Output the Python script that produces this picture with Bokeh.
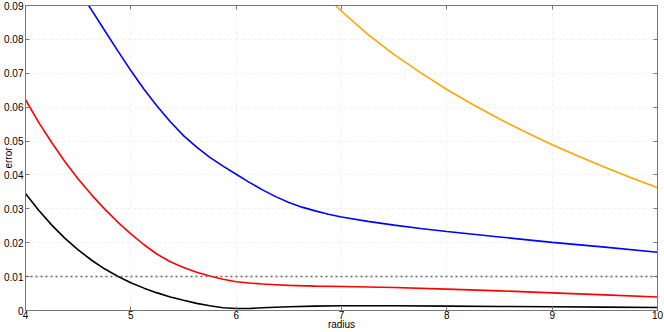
from bokeh.plotting import figure
from bokeh.models import Range1d, LinearAxis, FixedTicker, CustomJSTickFormatter, Span
from bokeh.embed import file_html
from bokeh.resources import INLINE

# ---- data ----
x_ticks = [4, 5, 6, 7, 8, 9, 10]
y_ticks = [0.0, 0.01, 0.02, 0.03, 0.04, 0.05, 0.06, 0.07, 0.08, 0.09]
threshold = 0.01

black_x = [4.0, 4.125, 4.25, 4.375, 4.5, 4.625, 4.75, 4.875, 5.0, 5.125, 5.25, 5.375, 5.5, 5.625, 5.75,
           5.875, 6.0, 6.125, 6.25, 6.5, 6.75, 7.0, 7.5, 8.0, 8.5, 9.0, 9.5, 10.0]
black_y = [0.0345, 0.0296, 0.0252, 0.0213, 0.0179, 0.0149, 0.0123, 0.0101, 0.0082, 0.0066, 0.0052, 0.0040,
           0.0030, 0.0021, 0.0014, 0.0008, 0.0006, 0.0006, 0.0008, 0.0011, 0.0013, 0.0014, 0.0014, 0.0013,
           0.0012, 0.0011, 0.0010, 0.0009]

red_x = [4.0, 4.125, 4.25, 4.375, 4.5, 4.625, 4.75, 4.875, 5.0, 5.125, 5.25, 5.375, 5.5, 5.625, 5.75,
         5.875, 6.0, 6.125, 6.25, 6.375, 6.5, 6.75, 7.0, 7.5, 8.0, 8.5, 9.0, 9.5, 10.0]
red_y = [0.0622, 0.0555, 0.0495, 0.0439, 0.0388, 0.0342, 0.0300, 0.0261, 0.0226, 0.0194, 0.0166, 0.0144,
         0.0127, 0.0113, 0.0102, 0.0092, 0.0085, 0.0081, 0.0078, 0.0076, 0.0074, 0.0072, 0.0071, 0.0068,
         0.0063, 0.0058, 0.0052, 0.0046, 0.0040]

blue_x = [4.5, 4.625, 4.75, 4.875, 5.0, 5.125, 5.25, 5.375, 5.5, 5.625, 5.75, 5.875, 6.0, 6.125, 6.25,
          6.375, 6.5, 6.625, 6.75, 6.875, 7.0, 7.25, 7.5, 7.75, 8.0, 8.5, 9.0, 9.5, 10.0]
blue_y = [0.0945, 0.0888, 0.0827, 0.0767, 0.0708, 0.0653, 0.0603, 0.0557, 0.0516, 0.0482, 0.0452, 0.0426,
          0.0402, 0.0378, 0.0356, 0.0336, 0.0319, 0.0305, 0.0294, 0.0284, 0.0276, 0.0263, 0.0252, 0.0242,
          0.0233, 0.0217, 0.0201, 0.0187, 0.0172]

orange_x = [6.75, 7.0, 7.25, 7.5, 7.75, 8.0, 8.25, 8.5, 8.75, 9.0, 9.25, 9.5, 9.75, 10.0]
orange_y = [0.0960, 0.0883, 0.0815, 0.0755, 0.0702, 0.0652, 0.0607, 0.0565, 0.0526, 0.0489, 0.0455,
            0.0423, 0.0392, 0.0362]

x_title = "radius"
y_title = "error"

FONT = "Liberation Sans Narrow, Liberation Sans"
FSIZE = "10px"
AXIS_COLOR = "#777777"

p = figure(width=664, height=332, output_backend="svg", toolbar_location=None,
           x_range=Range1d(4, 10), y_range=Range1d(0, 0.09),
           min_border_left=24, min_border_right=7, min_border_top=5, min_border_bottom=19)
p.outline_line_color = None
p.background_fill_color = "white"

for g in (p.xgrid, p.ygrid):
    g.grid_line_color = "#efefef"
    g.grid_line_dash = "3 3"
    g.grid_line_width = 1
p.xgrid.ticker = FixedTicker(ticks=x_ticks)
p.ygrid.ticker = FixedTicker(ticks=y_ticks)

yfmt = CustomJSTickFormatter(code="return tick == 0 ? '0' : tick.toFixed(2);")
empty = CustomJSTickFormatter(code="return '';")

def style(ax):
    ax.axis_line_color = AXIS_COLOR
    ax.axis_line_width = 1
    ax.major_tick_line_color = AXIS_COLOR
    ax.major_tick_in = 4
    ax.major_tick_out = 0
    ax.minor_tick_line_color = None
    ax.major_label_text_font = FONT
    ax.major_label_text_font_size = FSIZE
    ax.major_label_text_color = "black"
    ax.axis_label_text_font = FONT
    ax.axis_label_text_font_size = FSIZE
    ax.axis_label_text_font_style = "normal"
    ax.axis_label_text_color = "black"

xa = p.xaxis[0]
style(xa)
xa.ticker = FixedTicker(ticks=x_ticks)
xa.major_label_text_line_height = 1.0
xa.axis_label_text_line_height = 1.0
xa.major_label_standoff = 0
xa.axis_label = x_title
xa.axis_label_standoff = -3

ya = p.yaxis[0]
style(ya)
ya.ticker = FixedTicker(ticks=y_ticks)
ya.formatter = yfmt
ya.major_label_standoff = 2
ya.axis_label = y_title
ya.axis_label_standoff = -13

right = LinearAxis(ticker=FixedTicker(ticks=y_ticks), formatter=empty)
style(right)
right.major_label_standoff = 0
p.add_layout(right, "right")

top = LinearAxis(ticker=FixedTicker(ticks=x_ticks), formatter=empty)
style(top)
top.major_label_standoff = 0
p.add_layout(top, "above")

p.line(black_x, black_y, line_color="black", line_width=1.6)
p.line(red_x, red_y, line_color="red", line_width=1.6)
p.line(blue_x, blue_y, line_color="blue", line_width=1.6)
p.line(orange_x, orange_y, line_color="orange", line_width=1.6)

p.add_layout(Span(location=threshold, dimension="width", line_color="#666666",
                  line_dash="2 3", line_width=1.5))

open("out.html", "w").write(file_html(p, INLINE))
